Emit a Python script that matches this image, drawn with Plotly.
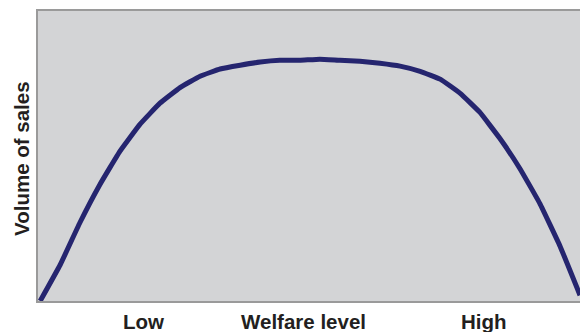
import plotly.graph_objects as go

welfare = [0.4, 4.1, 7.7, 11.4, 15.1, 18.8, 22.5, 26.2, 29.9, 33.6, 37.3, 41.0, 44.6, 48.3,
           52.0, 55.7, 59.4, 63.1, 66.8, 70.5, 74.2, 77.9, 81.5, 85.2, 88.9, 92.6, 96.3, 100.0]
sales = [0.0, 12.5, 26.9, 40.1, 51.6, 60.9, 68.2, 73.6, 77.5, 80.0, 81.3, 82.4, 83.0, 83.0,
         83.4, 83.0, 82.7, 82.0, 81.0, 79.2, 76.5, 71.6, 65.1, 56.1, 45.7, 33.6, 19.0, 2.0]
tick_pos = [19.4, 48.9, 82.3]
tick_text = ["Low", "Welfare level", "High"]
y_title = "Volume of sales"

FONT = "Liberation Sans, Arial, sans-serif"
TXT = "#231f20"

fig = go.Figure()
fig.add_trace(go.Scatter(x=welfare, y=sales, mode="lines",
                         line=dict(color="#25256f", width=5, shape="spline", smoothing=0.3),
                         hoverinfo="skip"))

for xv, t in zip(tick_pos, tick_text):
    fig.add_annotation(x=xv, xref="x", y=-0.069, yref="paper", yanchor="middle",
                       text="<b>" + t + "</b>", showarrow=False,
                       font=dict(size=20.5, family=FONT, color=TXT))

fig.add_annotation(x=-0.0314, xref="paper", y=(301 - 158) / 290, yref="paper",
                   xanchor="center", yanchor="middle", textangle=-90,
                   text="<b>" + y_title + "</b>", showarrow=False,
                   font=dict(size=20.5, family=FONT, color=TXT))

fig.update_layout(
    width=580, height=332,
    margin=dict(l=38, r=0, t=11, b=31, autoexpand=False),
    paper_bgcolor="white",
    plot_bgcolor="#d3d4d6",
    showlegend=False,
    font=dict(family=FONT, color=TXT),
    xaxis=dict(range=[0, 100], showgrid=False, zeroline=False, automargin=False,
               showline=True, linecolor="#9a9a9a", linewidth=2, mirror=True,
               showticklabels=False, ticks="", fixedrange=True),
    yaxis=dict(range=[0, 100], showgrid=False, zeroline=False, automargin=False,
               showline=True, linecolor="#9a9a9a", linewidth=2,
               showticklabels=False, ticks="", fixedrange=True),
)

fig.write_html("out.html", config={"displayModeBar": False},
               post_script="document.body.style.margin='0';document.body.style.overflow='hidden';")
